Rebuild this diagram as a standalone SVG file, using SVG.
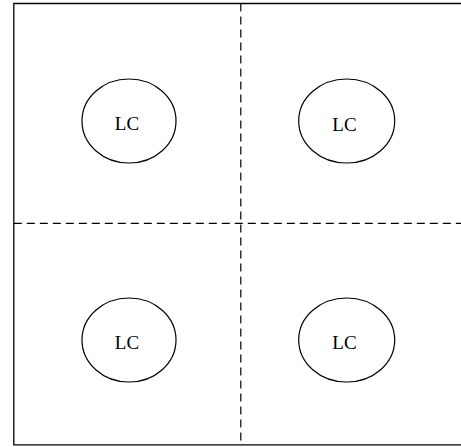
<svg xmlns="http://www.w3.org/2000/svg" width="461" height="447" viewBox="0 0 461 447">
<style>
.frame{fill:none;stroke:#000;stroke-width:1.3}
.dash{fill:none;stroke:#000;stroke-width:1.2;stroke-dasharray:8 5}
.node ellipse{fill:#fff;stroke:#000;stroke-width:1.2}
.node text{font-family:"Liberation Serif","Times New Roman",serif;font-size:19px;text-anchor:middle;fill:#000}
</style>
<rect width="461" height="447" fill="#fff"/>
<g id="connectors">
<polyline class="frame" points="461,3.5 13.8,3.5 13.8,444.8 461,444.8"/>
<line class="dash" x1="240.8" y1="3.5" x2="240.8" y2="444.8"/>
<line class="dash" x1="13.8" y1="223.3" x2="461" y2="223.3"/>
</g>
<g id="lc1" class="node"><ellipse cx="129" cy="121" rx="47" ry="42"/><text x="127" y="130">LC</text></g>
<g id="lc2" class="node"><ellipse cx="346.7" cy="121" rx="48" ry="42"/><text x="344.5" y="131">LC</text></g>
<g id="lc3" class="node"><ellipse cx="129" cy="340" rx="47" ry="42"/><text x="127" y="349">LC</text></g>
<g id="lc4" class="node"><ellipse cx="346.7" cy="340" rx="48" ry="42"/><text x="344.5" y="349">LC</text></g>
</svg>
